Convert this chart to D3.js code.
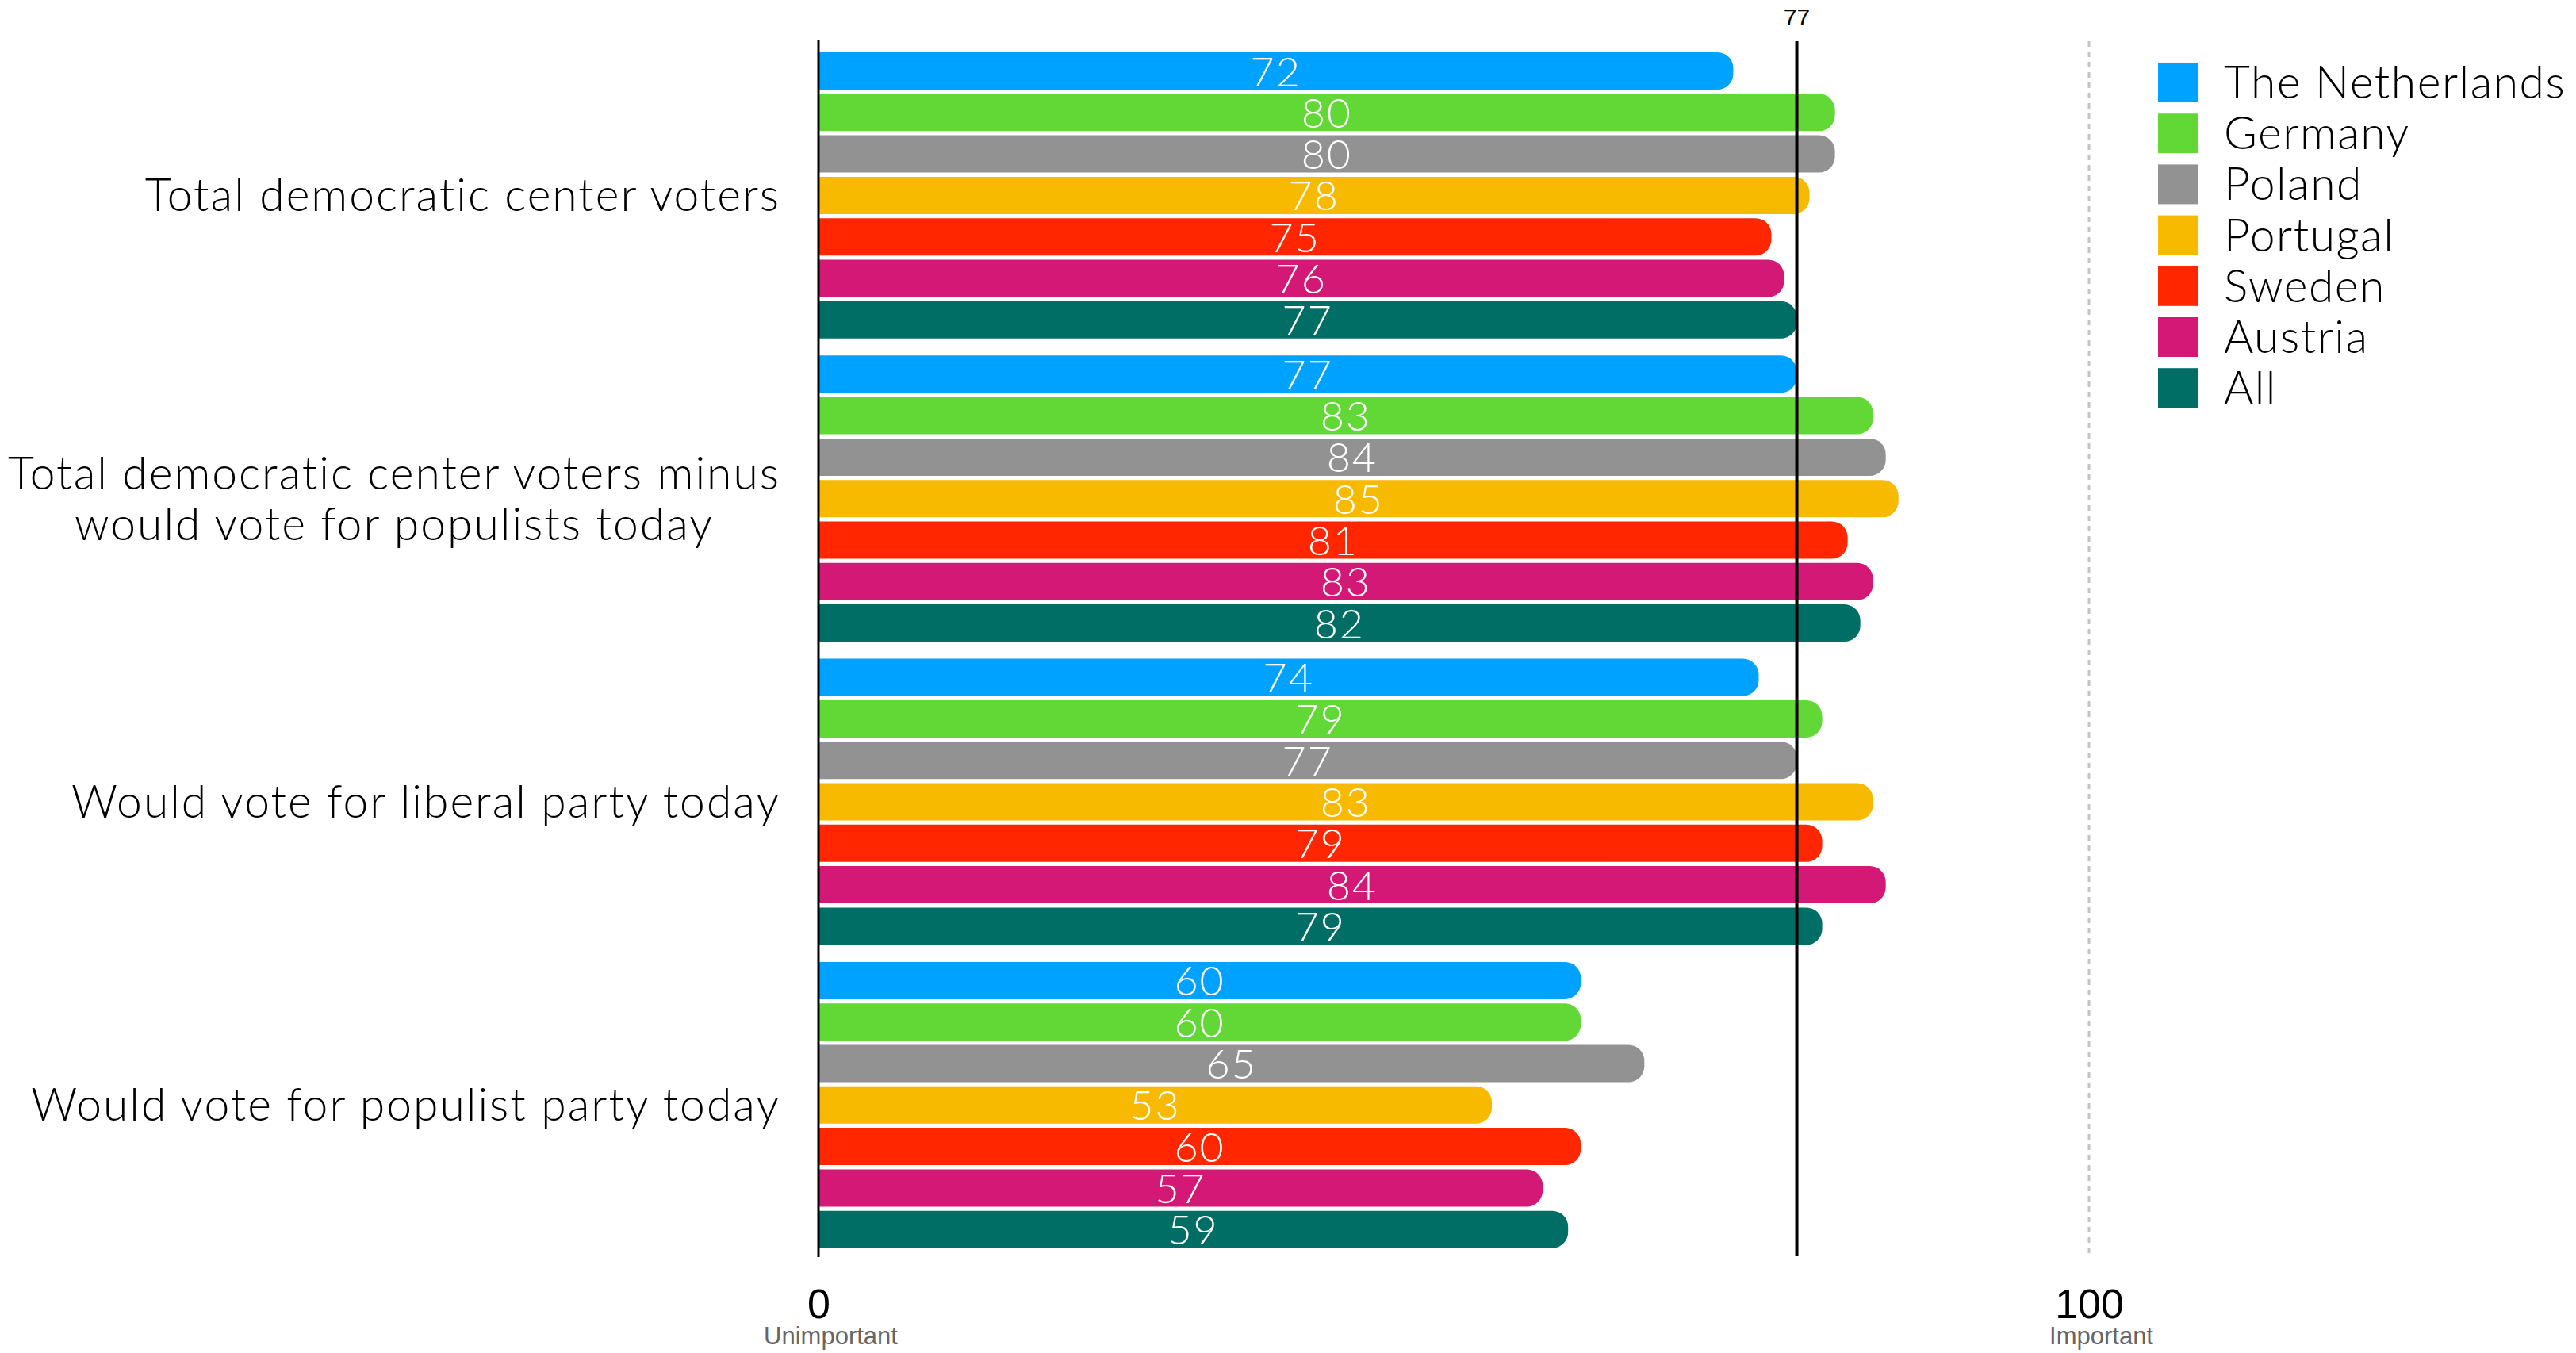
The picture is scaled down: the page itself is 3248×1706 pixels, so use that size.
<!DOCTYPE html>
<html>
<head>
<meta charset="utf-8">
<script src="https://cdn.jsdelivr.net/npm/d3@7"></script>
<style>
  body { margin: 0; background: #fff; }
  svg { display: block; }
  .light { font-family: Lato, "Open Sans", sans-serif; font-weight: 300; }
  .axis text { font-family: "Liberation Sans", Arial, sans-serif; }
</style>
</head>
<body>
<svg id="chart"></svg>
<script>
// data
var categories = [
  ['Total democratic center voters'],
  ['Total democratic center voters minus', 'would vote for populists today'],
  ['Would vote for liberal party today'],
  ['Would vote for populist party today']
];
var countries = ['The Netherlands', 'Germany', 'Poland', 'Portugal', 'Sweden', 'Austria', 'All'];
var colors = ['#00a2ff', '#61d836', '#929292', '#f8ba00', '#ff2600', '#d31876', '#016e66'];

var netherlands = [72, 77, 74, 60];
var germany     = [80, 83, 79, 60];
var poland      = [80, 84, 77, 65];
var portugal    = [78, 85, 83, 53];
var sweden      = [75, 81, 79, 60];
var austria     = [76, 83, 84, 57];
var all         = [77, 82, 79, 59];
var series = [netherlands, germany, poland, portugal, sweden, austria, all];

var refValue = 77;
var tickValues = [0, 100];
var tickNotes = ['Unimportant', 'Important'];

// ukuran
var W = 3248, H = 1706;
var svg = d3.select('#chart').attr('width', W).attr('height', H);

var x = d3.scaleLinear().domain([0, 100]).range([1032, 2634]);

var y0 = d3.scaleBand()
  .domain(d3.range(categories.length))
  .range([66, 1573.7])
  .paddingInner(0.0562);

var y1 = d3.scaleBand()
  .domain(d3.range(countries.length))
  .range([0, y0.bandwidth()])
  .paddingInner(0.1013);

var color = d3.scaleOrdinal().domain(d3.range(countries.length)).range(colors);

// flat records
var rows = [];
categories.forEach(function(c, ci) {
  series.forEach(function(s, si) {
    rows.push({cat: ci, country: si, value: s[ci]});
  });
});

function barPath(x0, x1, yTop, h, r) {
  var w = x1 - x0;
  r = Math.min(r, w, h / 2);
  return 'M' + x0 + ',' + yTop +
    'H' + (x1 - r) +
    'A' + r + ',' + r + ' 0 0 1 ' + x1 + ',' + (yTop + r) +
    'V' + (yTop + h - r) +
    'A' + r + ',' + r + ' 0 0 1 ' + (x1 - r) + ',' + (yTop + h) +
    'H' + x0 + 'Z';
}

// dashed line at 100
svg.append('line')
  .attr('x1', x(100)).attr('x2', x(100))
  .attr('y1', 52).attr('y2', 1584)
  .attr('stroke', '#c4c4c4')
  .attr('stroke-width', 3)
  .attr('stroke-dasharray', '7,6');

// bars
var bars = svg.append('g').attr('class', 'bars');
bars.selectAll('path')
  .data(rows)
  .enter().append('path')
  .attr('fill', function(d) { return color(d.country); })
  .attr('d', function(d) {
    return barPath(x(0), x(d.value), y0(d.cat) + y1(d.country), y1.bandwidth(), 20);
  });

bars.selectAll('text')
  .data(rows)
  .enter().append('text')
  .attr('class', 'light')
  .attr('fill', '#fff')
  .attr('font-size', 52)
  .attr('letter-spacing', 2)
  .attr('text-anchor', 'middle')
  .attr('x', function(d) { return (x(0) + x(d.value)) / 2; })
  .attr('y', function(d) { return y0(d.cat) + y1(d.country) + y1.bandwidth() / 2 + 19; })
  .text(function(d) { return d.value; });

// vertical zero axis
svg.append('line')
  .attr('x1', x(0)).attr('x2', x(0))
  .attr('y1', 50).attr('y2', 1585)
  .attr('stroke', '#000')
  .attr('stroke-width', 3);

// reference line
svg.append('line')
  .attr('x1', x(refValue)).attr('x2', x(refValue))
  .attr('y1', 52).attr('y2', 1584)
  .attr('stroke', '#000')
  .attr('stroke-width', 4);

svg.append('text')
  .attr('x', x(refValue))
  .attr('y', 32)
  .attr('text-anchor', 'middle')
  .attr('font-family', '"Liberation Sans", Arial, sans-serif')
  .attr('font-size', 30)
  .text(refValue);

// category labels: block right-aligned, lines centred inside it
var labelRight = 984;
var catG = svg.append('g').attr('class', 'cats');
catG.selectAll('text')
  .data(categories)
  .enter().append('text')
  .attr('class', 'light')
  .attr('font-size', 57)
  .attr('letter-spacing', 2)
  .attr('fill', '#000')
  .attr('text-anchor', 'middle')
  .each(function(lines, i) {
    var t = d3.select(this);
    var n = lines.length;
    lines.forEach(function(l, li) {
      t.append('tspan')
        .attr('x', 0)
        .attr('y', (li - (n - 1) / 2) * 64 + 20)
        .text(l);
    });
    var maxW = d3.max(t.selectAll('tspan').nodes(), function(s) { return s.getComputedTextLength(); });
    t.attr('transform', 'translate(' + (labelRight - maxW / 2) + ',' + (y0(i) + y0.bandwidth() / 2) + ')');
  });

// x axis
var xAxis = d3.axisBottom(x).tickValues(tickValues).tickSize(0).tickPadding(0);
var axG = svg.append('g')
  .attr('class', 'axis')
  .attr('transform', 'translate(0,1624)')
  .call(xAxis);
axG.select('.domain').remove();
axG.selectAll('.tick text')
  .attr('font-size', 52)
  .attr('fill', '#000')
  .attr('dy', 0)
  .attr('y', 38);
axG.selectAll('.tick')
  .append('text')
  .attr('x', 15)
  .attr('y', 71)
  .attr('fill', '#666')
  .attr('font-size', 31)
  .attr('text-anchor', 'middle')
  .text(function(d, i) { return tickNotes[i]; });

// legend
var legend = svg.append('g')
  .attr('class', 'legend')
  .attr('transform', 'translate(2721,79)');
var item = legend.selectAll('g')
  .data(countries)
  .enter().append('g')
  .attr('transform', function(d, i) { return 'translate(0,' + (i * 64.2) + ')'; });
item.append('rect')
  .attr('width', 51).attr('height', 50)
  .attr('fill', function(d, i) { return color(i); });
item.append('text')
  .attr('class', 'light')
  .attr('x', 83)
  .attr('y', 45)
  .attr('font-size', 57)
  .attr('letter-spacing', 1.5)
  .attr('fill', '#000')
  .text(function(d) { return d; });
</script>
</body>
</html>
